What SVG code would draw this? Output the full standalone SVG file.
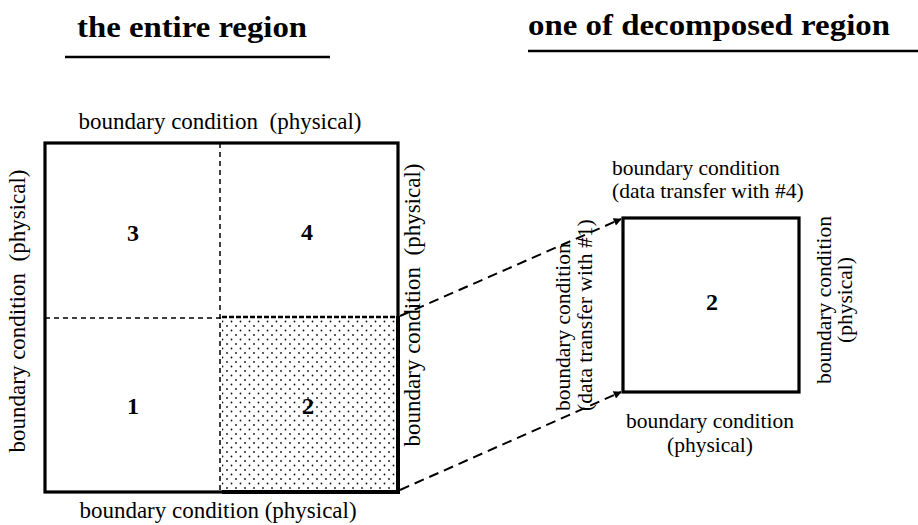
<svg xmlns="http://www.w3.org/2000/svg" width="918" height="525" viewBox="0 0 918 525">
<style>
.title{font-family:"Liberation Serif","Times New Roman",serif;font-weight:bold;font-size:30px;fill:#000}
.lbl{font-family:"Liberation Serif","Times New Roman",serif;font-size:23px;fill:#000;white-space:pre}
.lbl2{font-family:"Liberation Serif","Times New Roman",serif;font-size:21.5px;fill:#000}
.num{font-family:"Liberation Serif","Times New Roman",serif;font-weight:bold;font-size:24px;fill:#000;text-anchor:middle}
.thin-dash{fill:none;stroke:#000;stroke-width:1.5;stroke-dasharray:5 4}
.thick-dash{fill:none;stroke:#000;stroke-width:2.5;stroke-dasharray:5 2}
.box{fill:none;stroke:#000;stroke-width:3.2}
.conn{fill:none;stroke:#000;stroke-width:2;stroke-dasharray:10 6}
</style>
<defs>
<pattern id="dots" width="9" height="9" patternUnits="userSpaceOnUse">
<circle cx="2" cy="2" r="0.9" fill="#111"/>
<circle cx="6.5" cy="6.5" r="0.9" fill="#111"/>
</pattern>
<marker id="arr" viewBox="0 0 10 10" refX="9" refY="5" markerWidth="11" markerHeight="8" markerUnits="userSpaceOnUse" orient="auto">
<path d="M0,0 L10,5 L0,10 Z" fill="#000"/>
</marker>
</defs>
<rect width="918" height="525" fill="#fff"/>

<g id="title-left">
<text class="title" x="77" y="37" textLength="230" lengthAdjust="spacingAndGlyphs">the entire region</text>
<line x1="65" y1="57" x2="330" y2="57" stroke="#000" stroke-width="2.5"/>
</g>
<g id="title-right">
<text class="title" x="528" y="35" textLength="362" lengthAdjust="spacingAndGlyphs">one of decomposed region</text>
<line x1="528" y1="51" x2="918" y2="51" stroke="#000" stroke-width="2.5"/>
</g>

<g id="entire-region">
<rect x="222" y="318" width="176" height="174" fill="url(#dots)"/>
<line class="thin-dash" x1="220" y1="143" x2="220" y2="492"/>
<line class="thin-dash" x1="45" y1="318" x2="222" y2="318"/>
<line class="thick-dash" x1="222" y1="317" x2="398" y2="317"/>
<rect class="box" x="45" y="143" width="353" height="349"/>
<line x1="398" y1="316" x2="398" y2="494" stroke="#000" stroke-width="4"/>
<line x1="222" y1="492" x2="400" y2="492" stroke="#000" stroke-width="4"/>
<text class="lbl" xml:space="preserve" x="220" y="129" text-anchor="middle">boundary condition  (physical)</text>
<text class="lbl" x="218" y="518" text-anchor="middle">boundary condition (physical)</text>
<text class="lbl" xml:space="preserve" transform="translate(25,311) rotate(-90)" text-anchor="middle">boundary condition  (physical)</text>
<text class="lbl" xml:space="preserve" transform="translate(420,305) rotate(-90)" text-anchor="middle">boundary condition  (physical)</text>
</g>
<g id="cell-3"><text class="num" x="133" y="241">3</text></g>
<g id="cell-4"><text class="num" x="307" y="240">4</text></g>
<g id="cell-1"><text class="num" x="133" y="414">1</text></g>
<g id="cell-2"><text class="num" x="308" y="414">2</text></g>

<g id="decomposed-region">
<rect class="box" x="623" y="218" width="176" height="174"/>
<text class="num" x="712" y="310">2</text>
<text class="lbl2" x="612" y="175">boundary condition</text>
<text class="lbl2" x="612" y="198">(data transfer with #4)</text>
<text class="lbl2" transform="translate(570,411) rotate(-90)">boundary condition</text>
<text class="lbl2" transform="translate(592,411) rotate(-90)">(data transfer with #1)</text>
<text class="lbl2" transform="translate(831,300) rotate(-90)" text-anchor="middle">boundary condition</text>
<text class="lbl2" transform="translate(852,300) rotate(-90)" text-anchor="middle">(physical)</text>
<text class="lbl2" x="710" y="428" text-anchor="middle">boundary condition</text>
<text class="lbl2" x="710" y="452" text-anchor="middle">(physical)</text>
</g>

<g id="connectors">
<path class="conn" d="M400,316 L621,219" marker-end="url(#arr)"/>
<path class="conn" d="M400,490 L621,392" marker-end="url(#arr)"/>
</g>
</svg>
